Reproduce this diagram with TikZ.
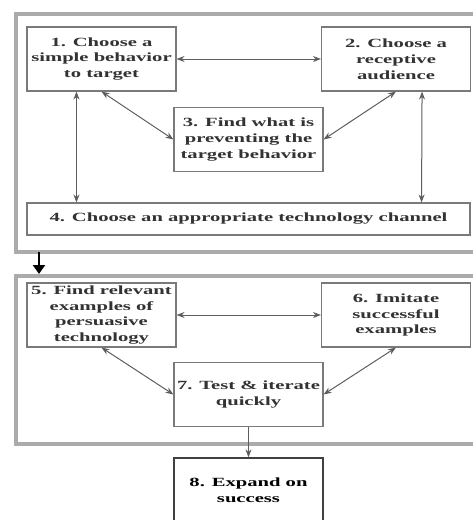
\documentclass[tikz,border=0pt]{standalone}
\usepackage{fontspec}
\setmainfont{Liberation Serif}[FakeStretch=1.65]
\usetikzlibrary{arrows.meta}
\definecolor{txtgray}{HTML}{333333}
\definecolor{boxgray}{HTML}{7A7A7A}
\definecolor{arrgray}{HTML}{5E5E5E}
\definecolor{framegray}{HTML}{ABABAB}
\tikzset{
  stepbox/.style={draw=boxgray, line width=1.1pt, fill=white, rectangle, inner sep=0pt,
    minimum width=149pt, minimum height=64pt, align=center, text=txtgray,
    font=\fontsize{12.5}{15.8}\selectfont\bfseries},
  widebox/.style={stepbox, minimum width=443pt, minimum height=32pt},
  finalbox/.style={stepbox, draw=black!75, line width=1.3pt, text=black},
  frame/.style={draw=framegray, line width=4pt, rectangle, inner sep=0pt},
  biarrow/.style={draw=arrgray, line width=1pt, {Stealth[length=8pt,width=6pt]}-{Stealth[length=8pt,width=6pt]}},
  onearrow/.style={draw=arrgray, line width=1pt, -{Stealth[length=8pt,width=6pt]}},
  bigarrow/.style={draw=black, line width=2.2pt, -{Triangle[length=9pt,width=12pt]}}
}
\begin{document}
\begin{tikzpicture}[x=1pt,y=-1pt]
\useasboundingbox (0,0) rectangle (473,520);
\clip (0,0) rectangle (473,520);
\fill[white] (0,0) rectangle (473,520);
% frames
\node[frame, minimum width=480pt, minimum height=238pt, anchor=north west] (f1) at (14,12) {};
\node[frame, minimum width=480pt, minimum height=168pt, anchor=north west] (f2) at (14,274) {};
% boxes
\node[stepbox] (b1) at (101.5,59) {1. Choose a\\simple behavior\\to target};
\node[stepbox] (b2) at (396,59) {2. Choose a\\receptive\\audience};
\node[stepbox] (b3) at (248.5,139.5) {3. Find what is\\preventing the\\target behavior};
\node[widebox] (b4) at (248.5,219) {4. Choose an appropriate technology channel};
\node[stepbox] (b5) at (101.5,315) {5. Find relevant\\examples of\\persuasive\\technology};
\node[stepbox] (b6) at (396,315) {6. Imitate\\successful\\examples};
\node[stepbox] (b7) at (248.5,394.5) {7. Test \& iterate\\quickly};
\node[finalbox] (b8) at (248.5,490) {8. Expand on\\success};
% connectors
\draw[biarrow] (b1.east) -- (b2.west);
\draw[biarrow] (b1.south) -- (b3.west);
\draw[biarrow] (b2.south) -- (b3.east);
\draw[biarrow] ([xshift=50pt]b1.south west) -- ([xshift=50pt]b4.north west);
\draw[biarrow] ([xshift=-49pt]b2.south east) -- ([xshift=-49pt]b4.north east);
\draw[biarrow] (b5.east) -- (b6.west);
\draw[biarrow] (b5.south) -- (b7.west);
\draw[biarrow] (b6.south) -- (b7.east);
\draw[onearrow] (b7.south) -- (b8.north);
\coordinate (fa) at (39,252);
\coordinate (fb) at (39,274);
\draw[bigarrow] (fa) -- (fb);
\end{tikzpicture}
\end{document}
